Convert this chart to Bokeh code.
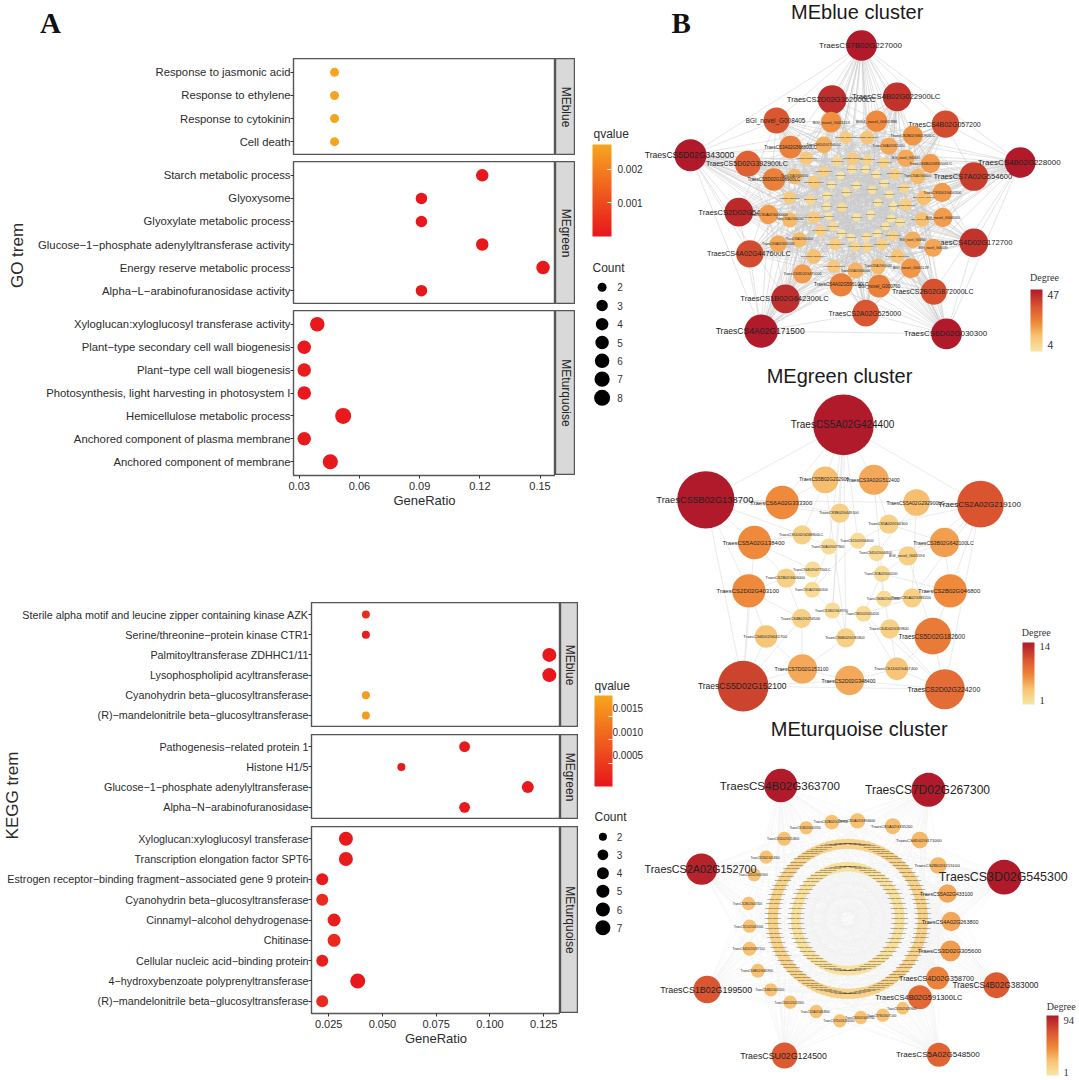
import numpy as np
from bokeh.plotting import figure
from bokeh.models import (Range1d, FactorRange, FixedTicker, LinearColorMapper, ColorBar, ColumnDataSource)
from bokeh.core.properties import value
from bokeh.embed import file_html
from bokeh.resources import INLINE

SANS = "Liberation Sans"
SERIF = "Liberation Serif"

# ---------- panel A data ----------
go_blue_terms = ["Response to jasmonic acid", "Response to ethylene", "Response to cytokinin", "Cell death"]
go_blue_ratio = [0.0476, 0.0476, 0.0476, 0.0476]
go_blue_count = [2, 2, 2, 2]
go_blue_q = [0.0027, 0.0027, 0.0027, 0.0027]

go_green_terms = ["Starch metabolic process", "Glyoxysome", "Glyoxylate metabolic process",
                  "Glucose\u22121\u2212phosphate adenylyltransferase activity",
                  "Energy reserve metabolic process", "Alpha\u2212L\u2212arabinofuranosidase activity"]
go_green_ratio = [0.1212, 0.0909, 0.0909, 0.1212, 0.1515, 0.0909]
go_green_count = [4, 3, 3, 4, 5, 3]
go_green_q = [0.00003, 0.00002, 0.00002, 0.00002, 0.00002, 0.00002]

go_turq_terms = ["Xyloglucan:xyloglucosyl transferase activity", "Plant\u2212type secondary cell wall biogenesis",
                 "Plant\u2212type cell wall biogenesis", "Photosynthesis, light harvesting in photosystem I",
                 "Hemicellulose metabolic process", "Anchored component of plasma membrane",
                 "Anchored component of membrane"]
go_turq_ratio = [0.0390, 0.0325, 0.0325, 0.0325, 0.0519, 0.0325, 0.0455]
go_turq_count = [6, 5, 5, 5, 8, 5, 7]
go_turq_q = [0.00005, 0.00005, 0.00015, 0.00005, 0.00005, 0.00008, 0.00005]

kegg_blue_terms = ["Sterile alpha motif and leucine zipper containing kinase AZK", "Serine/threonine\u2212protein kinase CTR1",
                   "Palmitoyltransferase ZDHHC1/11", "Lysophospholipid acyltransferase",
                   "Cyanohydrin beta\u2212glucosyltransferase", "(R)\u2212mandelonitrile beta\u2212glucosyltransferase"]
kegg_blue_ratio = [0.0423, 0.0423, 0.1276, 0.1276, 0.0423, 0.0423]
kegg_blue_count = [2, 2, 6, 6, 2, 2]
kegg_blue_q = [0.0003, 0.00008, 0.00001, 0.00001, 0.0018, 0.0018]

kegg_green_terms = ["Pathogenesis\u2212related protein 1", "Histone H1/5",
                    "Glucose\u22121\u2212phosphate adenylyltransferase", "Alpha\u2212N\u2212arabinofuranosidase"]
kegg_green_ratio = [0.0882, 0.0588, 0.1176, 0.0882]
kegg_green_count = [3, 2, 4, 3]
kegg_green_q = [0.00005, 0.00005, 0.00003, 0.00005]

kegg_turq_terms = ["Xyloglucan:xyloglucosyl transferase", "Transcription elongation factor SPT6",
                   "Estrogen receptor\u2212binding fragment\u2212associated gene 9 protein",
                   "Cyanohydrin beta\u2212glucosyltransferase", "Cinnamyl\u2212alcohol dehydrogenase", "Chitinase",
                   "Cellular nucleic acid\u2212binding protein", "4\u2212hydroxybenzoate polyprenyltransferase",
                   "(R)\u2212mandelonitrile beta\u2212glucosyltransferase"]
kegg_turq_ratio = [0.0330, 0.0330, 0.0220, 0.0220, 0.0275, 0.0275, 0.0220, 0.0385, 0.0220]
kegg_turq_count = [6, 6, 4, 4, 5, 5, 4, 7, 4]
kegg_turq_q = [0.00005, 0.00008, 0.00005, 0.00028, 0.00012, 0.00028, 0.00012, 0.00005, 0.00028]

go_ticks = [0.03, 0.06, 0.09, 0.12, 0.15]
go_tick_labels = ["0.03", "0.06", "0.09", "0.12", "0.15"]
kegg_ticks = [0.025, 0.050, 0.075, 0.100, 0.125]
kegg_tick_labels = ["0.025", "0.050", "0.075", "0.100", "0.125"]
go_q_ticks = [0.001, 0.002]
go_q_labels = ["0.001", "0.002"]
kegg_q_ticks = [0.0005, 0.0010, 0.0015]
kegg_q_labels = ["0.0005", "0.0010", "0.0015"]
go_legend_counts = [2, 3, 4, 5, 6, 7, 8]
kegg_legend_counts = [2, 3, 4, 5, 6, 7]

# ---------- panel B data: MEblue ----------
blue_hub_names = ["TraesCS7B02G227000", "TraesCS2D02G362000LC", "TraesCS4B02G022900LC", "BGI_novel_G008405",
                  "TraesCS4B02G057200", "TraesCS5D02G343000", "TraesCS4B02G228000", "TraesCS5D02G392900LC",
                  "TraesCS7A02G554600", "TraesCS2D02G547700", "TraesCS4D02G172700", "TraesCS4A02G447600LC",
                  "TraesCS1B02G642300LC", "TraesCS2B02G872000LC", "TraesCS2A02G525000", "TraesCS4A02G171500",
                  "TraesCS6D02G030300"]
blue_hub_x = [663, 575, 770, 408, 915, 150, 1139, 322, 1000, 295, 1000, 328, 435, 880, 676, 362, 918]
blue_hub_y = [135, 297, 289, 360, 371, 464, 486, 490, 528, 635, 727, 760, 895, 874, 938, 992, 1000]
blue_hub_d = [92, 86, 86, 78, 82, 96, 92, 78, 86, 86, 86, 82, 86, 78, 80, 100, 92]
blue_hub_deg = [47, 43, 42, 35, 37, 47, 47, 33, 40, 44, 42, 37, 43, 36, 35, 47, 47]
blue_hub_fs = [8, 7.6, 7.6, 6.4, 7, 8.6, 8, 7, 7.6, 7.6, 7.6, 7.2, 7.6, 7, 7, 8.6, 8]

blue_in_x = [572, 708, 817, 450, 550, 615, 680, 745, 796, 870, 400, 462, 497, 590, 637, 680, 730, 550, 520, 634, 675, 707,
             763, 832, 905, 600, 647, 573, 731, 791, 850, 447, 695, 618, 746, 559, 510, 796, 712, 558, 605, 759, 384, 448,
             520, 565, 648, 691, 845, 907, 752, 779, 578, 540, 603, 735, 711, 757, 632, 678, 817, 878, 413, 477, 584, 644,
             680, 725, 771, 520, 580, 645, 713, 811, 486, 602, 716]
blue_in_y = [365, 362, 405, 440, 433, 411, 411, 437, 473, 489, 537, 528, 473, 483, 474, 478, 487, 514, 545, 506, 507, 521,
             521, 528, 576, 525, 555, 553, 549, 563, 592, 592, 568, 576, 582, 585, 599, 612, 607, 617, 620, 617, 642, 658,
             651, 647, 651, 641, 657, 651, 655, 665, 677, 691, 698, 677, 699, 706, 712, 709, 718, 742, 730, 718, 731, 739,
             740, 732, 767, 768, 798, 810, 798, 803, 820, 853, 857]
blue_in_d = [62, 64, 60, 68, 50, 38, 42, 52, 52, 58, 68, 46, 40, 30, 38, 32, 32, 34, 38, 26, 24, 24,
             34, 46, 58, 24, 24, 24, 24, 30, 44, 38, 26, 26, 24, 24, 30, 36, 24, 24, 28, 24, 58, 46,
             38, 24, 24, 24, 44, 58, 24, 26, 28, 34, 24, 24, 24, 32, 24, 26, 50, 54, 52, 46, 36, 30,
             30, 34, 42, 44, 40, 48, 46, 60, 58, 70, 68]
blue_in_named = {0: "BGI_novel_G001153", 1: "BGI4_novel_G001896", 2: "TraesCS2B02G841900LC", 3: "TraesCS3A02G568800LC",
                 4: "TraesCS6D02G275000LC", 7: "TraesCS6A02G320100", 8: "BGI_novel_G00640", 9: "TraesCS6B02G831500LC",
                 10: "TraesCS5D02G108900LC", 24: "TraesCS5D02G410300", 30: "BGI_novel_G00946", 48: "BGI_novel_G00340",
                 49: "BGI_novel_G000340", 60: "BGI_novel_G00660", 61: "BGI_novel_G00535", 73: "BGI_novel_G005129",
                 74: "TraesCS3D02G470000", 75: "TraesCS4A02G595100LC", 76: "BGI_novel_G000760"}

# ---------- panel B data: MEgreen ----------
green_names = ["TraesCS5A02G424400", "TraesCS5B02G138700", "TraesCS2A02G219100", "TraesCS5D02G152100", "TraesCS2D02G224200",
               "TraesCS5D02G182600", "TraesCS2B02G046800", "TraesCS2D02G403100", "TraesCS5A02G138400", "TraesCS6A02G333300",
               "TraesCS3B02G642100LC", "TraesCS5B02G202900", "TraesCS3A02G512400", "TraesCS5A02G292900LC", "TraesCS5A02G160300",
               "TraesCS3B02G449100", "TraesCS5D02G268800LC", "TraesCS1D02G344600", "TraesCS4A02G077800", "TraesCS4D02G044600",
               "BGI_novel_G005594", "TraesCS6B02G477300LC", "TraesCS2B02G606000", "TraesCS7A02G000200", "TraesCS1A02G000300",
               "TraesCS6B02G012600", "TraesCS5A02G386200", "TraesCS1B02G449700", "TraesCS6D02G054200", "TraesCS4B02G256500",
               "TraesCS4D02G269800", "TraesCS6D02G041700", "TraesCS6B02G181800", "TraesCS7D02G153100", "TraesCS2D02G348400",
               "TraesCS1D02G407400"]
green_x = [609, 196, 1020, 308, 913, 877, 929, 325, 342, 425, 912, 554, 700, 828, 745, 598, 485, 652, 565, 708, 802, 517, 437,
           724, 515, 731, 815, 576, 669, 483, 748, 377, 616, 486, 627, 769]
green_y = [193, 418, 431, 977, 986, 827, 691, 691, 546, 426, 546, 358, 358, 426, 491, 458, 523, 541, 558, 578, 586, 627, 653,
           640, 688, 715, 712, 750, 760, 774, 805, 828, 832, 925, 960, 925]
green_d = [182, 172, 140, 152, 120, 110, 100, 100, 100, 100, 88, 80, 90, 80, 58, 58, 58, 48, 48, 48, 58, 48, 58, 48, 48, 48,
           58, 48, 48, 58, 58, 68, 58, 88, 88, 68]
green_deg = [14, 14, 10.5, 11.5, 9, 8, 7, 7, 7, 7, 6, 4.5, 5.5, 4.5, 3, 3, 3, 2, 2, 2, 3, 2, 3, 2, 2, 2, 3, 2, 2, 3, 3, 4, 3,
             5.5, 5.5, 4]
green_fs = [10, 9.4, 8, 8.5, 7, 6.4, 6, 6, 6, 6, 5.2, 4.8, 5.2, 5, 3.8, 3.8, 3.8, 3.2, 3.2, 3.2, 3.8, 3.2, 3.8, 3.2, 3.2, 3.2,
            3.8, 3.2, 3.2, 3.8, 3.8, 4.2, 3.8, 5.2, 5.2, 4.2]
green_from = [0, 0, 1, 2, 3, 0, 0, 0, 0, 0, 0, 0, 0, 1, 1, 1, 1, 1, 1, 2, 2, 2, 2, 2, 2, 3, 3, 3, 3, 3, 3, 4, 4, 4, 4, 4, 5, 5, 5,
              6, 6, 6, 7, 7, 7, 8, 8, 8, 9, 9, 10, 10, 10, 11, 11, 12, 12, 13, 13, 14, 15, 16, 17, 18, 19, 20, 21, 22, 23, 24, 25,
              26, 27, 28, 29, 30, 31, 32, 33, 34]
green_to = [1, 2, 3, 4, 4, 11, 12, 15, 18, 32, 9, 17, 27, 9, 8, 7, 16, 15, 13, 13, 14, 10, 6, 20, 26, 7, 8, 31, 33, 34, 29, 34, 35,
            30, 28, 5, 6, 20, 35, 10, 26, 23, 22, 29, 31, 16, 22, 21, 15, 11, 14, 20, 19, 16, 32, 14, 25, 19, 26, 17, 27, 18, 24, 24,
            25, 23, 22, 29, 28, 27, 30, 28, 32, 35, 33, 35, 33, 33, 34, 35]

# ---------- panel B data: MEturquoise ----------
turq_names = ["TraesCS4B02G363700", "TraesCS7D02G267300", "TraesCS2A02G152700", "TraesCS3D02G545300", "TraesCS1B02G199500",
              "TraesCS4B02G383000", "TraesCSU02G124500", "TraesCS5A02G548500", "TraesCS4B02G591300LC", "TraesCS4D02G358700",
              "TraesCS3D02G305600", "TraesCS4A02G263800", "TraesCS5A02G433100", "TraesCS2B02G215100", "TraesCS6D02G171000",
              "TraesCS1A02G335200", "TraesCS5A02G394600", "TraesCS2B02G208700", "TraesCS1B02G003700", "TraesCS5D02G210800",
              "TraesCS2B02G204300", "TraesCS2D02G041900", "TraesCS2B02G047300", "TraesCS1D02G459000", "TraesCS4D02G287100",
              "TraesCS6B02G081900", "TraesCS4B02G031100", "TraesCS5D02G201900", "TraesCS2A02G464800", "TraesCS7D02G264000",
              "TraesCS6D02G098700", "TraesCS7B02G071400", "TraesCS5D02G289600"]
turq_x = [421, 864, 183, 1091, 200, 1068, 432, 895, 838, 891, 930, 932, 921, 893, 838, 757, 651, 574, 497, 431, 377, 341, 324, 327,
          327, 352, 391, 449, 527, 598, 661, 727, 787]
turq_y = [225, 238, 476, 500, 837, 824, 1035, 1033, 860, 803, 721, 633, 549, 465, 389, 347, 331, 335, 352, 385, 440, 493, 579, 647,
          715, 781, 838, 875, 903, 931, 921, 914, 893]
turq_d = [100, 102, 94, 104, 82, 78, 78, 72, 72, 68, 62, 58, 56, 50, 50, 48, 46, 44, 40, 42, 40, 40, 40, 40, 42, 42, 40, 40, 40, 40,
          40, 40, 38]
turq_deg = [94, 94, 90, 94, 68, 66, 66, 62, 60, 48, 38, 34, 34, 28, 28, 26, 25, 25, 24, 25, 24, 24, 24, 24, 25, 25, 24, 24, 24, 24,
            24, 24, 24]
turq_fs = [11.6, 12, 10.8, 12.4, 8.9, 8.3, 8.8, 8.1, 7.5, 7.2, 6.1, 5.5, 5.1, 4.4, 4.4, 4, 3.6, 3.3, 3, 3.1, 2.8, 2.8, 2.8, 2.8, 3.1,
           3.1, 2.8, 2.8, 2.8, 3, 2.8, 2.8, 2.8]
inner_ring_n = 64
outer_ring_n = 96
ring_label = "TraesCS5A02G000000"

# ---------- colour helpers ----------
def hex_rgb(h):
    return np.array([int(h[i:i + 2], 16) for i in (1, 3, 5)], dtype=float)

def ramp(stops, colors, n=256):
    t = np.linspace(0, 1, n)
    rgb = np.array([hex_rgb(c) for c in colors])
    out = np.stack([np.interp(t, stops, rgb[:, k]) for k in range(3)], axis=1)
    return ["#%02x%02x%02x" % tuple(int(round(v)) for v in row) for row in out]

Q_PAL = ramp([0, 1], ["#E8161C", "#F7A61E"])
DEG_PAL = ramp([0, 0.25, 0.45, 0.7, 1], ["#F8E6A5", "#F7C273", "#F08C3D", "#DD5A30", "#B01A2A"])
GO_Q = LinearColorMapper(palette=Q_PAL, low=0, high=0.00273)
KEGG_Q = LinearColorMapper(palette=Q_PAL, low=0, high=0.00195)
GO_SIZE = {2: 9, 3: 11.5, 4: 12.5, 5: 13.5, 6: 14.5, 7: 15.2, 8: 16}
KEGG_SIZE = {2: 8, 3: 10.8, 4: 12, 5: 13, 6: 14, 7: 15}
TXT = "#2b2b2b"
EDGE = "#555555"

children = []

def place(fig, x, y):
    fig.styles = {"position": "absolute", "left": f"{x}px", "top": f"{y}px"}
    children.append(fig)
    return fig

def blank(x0, x1, y0, y1):
    """Transparent figure whose data units are page pixels."""
    p = figure(width=int(x1 - x0), height=int(y1 - y0), x_range=Range1d(x0, x1), y_range=Range1d(y1, y0),
               toolbar_location=None, output_backend="svg", min_border=0,
               x_axis_location=None, y_axis_location=None, outline_line_color=None,
               background_fill_color=None, border_fill_color=None)
    p.grid.visible = False
    return p

def txt(p, xs, ys, labels, size, color=TXT, font=SANS, align="center", base="middle", angle=0, style="normal"):
    p.text(x=list(xs), y=list(ys), text=list(labels), text_font=value(font), text_font_size=size, text_color=color,
           text_align=align, text_baseline=base, angle=angle, text_font_style=style)

def facet(l, r, top, bot, terms, ratio, count, q, xr, mapper, sizes, strip, fs, ticks=None, tick_labels=None, axis_h=0):
    p = figure(width=r, height=bot - top + axis_h, x_range=Range1d(*xr),
               y_range=FactorRange(factors=terms[::-1], range_padding=0.1, range_padding_units="absolute"),
               toolbar_location=None, output_backend="svg", min_border_left=l, min_border_right=0, min_border_top=0,
               min_border_bottom=axis_h, outline_line_color=EDGE, outline_line_width=1.4,
               x_axis_location="below" if axis_h else None, background_fill_color="white", border_fill_color=None)
    p.grid.visible = False
    p.yaxis.axis_line_color = None
    p.yaxis.major_tick_in = 0
    p.yaxis.major_tick_out = 3
    p.yaxis.major_tick_line_color = "#333333"
    p.yaxis.major_label_standoff = 0
    p.yaxis.major_label_text_font = SANS
    p.yaxis.major_label_text_font_size = fs
    p.yaxis.major_label_text_color = TXT
    if axis_h:
        p.xaxis.axis_line_color = None
        p.xaxis.ticker = FixedTicker(ticks=ticks)
        p.xaxis.major_label_overrides = dict(zip(ticks, tick_labels))
        p.xaxis.major_tick_in = 0
        p.xaxis.major_tick_out = 3
        p.xaxis.major_tick_line_color = "#333333"
        p.xaxis.minor_tick_line_color = None
        p.xaxis.major_label_standoff = 3
        p.xaxis.major_label_text_font = SANS
        p.xaxis.major_label_text_font_size = "11px"
        p.xaxis.major_label_text_color = TXT
        p.xaxis.axis_label = "GeneRatio"
        p.xaxis.axis_label_text_font = SANS
        p.xaxis.axis_label_text_font_style = "normal"
        p.xaxis.axis_label_text_font_size = "13px"
        p.xaxis.axis_label_text_color = TXT
        p.xaxis.axis_label_standoff = 0
    src = ColumnDataSource(dict(x=ratio, y=terms, q=q, s=[sizes[c] for c in count]))
    p.scatter("x", "y", size="s", source=src, fill_color={"field": "q", "transform": mapper}, line_color=None)
    place(p, 0, top)
    # strip
    s = figure(width=strip[1], height=bot - top, x_range=Range1d(0, 1), y_range=Range1d(0, 1), toolbar_location=None,
               output_backend="svg", min_border=0, x_axis_location=None, y_axis_location=None, outline_line_color=EDGE,
               outline_line_width=1.4, background_fill_color="#D9D9D9", border_fill_color=None)
    s.grid.visible = False
    txt(s, [0.5], [0.5], [strip[0]], "12px", color="#222222", angle=-np.pi / 2)
    place(s, r, top)

GO_XR = (0.02715, 0.1577)
KEGG_XR = (0.0170, 0.1328)

# side labels first so the axis text sits above them
side = blank(0, 34, 200, 310)
txt(side, [17], [255], ["GO trem"], "17px", angle=np.pi / 2)
place(side, 0, 200)
side2 = blank(0, 30, 740, 850)
txt(side2, [12], [795], ["KEGG trem"], "17px", angle=np.pi / 2)
place(side2, 0, 740)

GF, KF = "11.3px", "10.75px"
facet(293, 555, 58, 155, go_blue_terms, go_blue_ratio, go_blue_count, go_blue_q, GO_XR, GO_Q, GO_SIZE, ("MEblue", 20), GF)
facet(293, 555, 161, 304, go_green_terms, go_green_ratio, go_green_count, go_green_q, GO_XR, GO_Q, GO_SIZE, ("MEgreen", 20), GF)
facet(293, 555, 310, 475, go_turq_terms, go_turq_ratio, go_turq_count, go_turq_q, GO_XR, GO_Q, GO_SIZE, ("MEturquoise", 20), GF,
      go_ticks, go_tick_labels, 36)
facet(311, 560, 602, 727, kegg_blue_terms, kegg_blue_ratio, kegg_blue_count, kegg_blue_q, KEGG_XR, KEGG_Q, KEGG_SIZE, ("MEblue", 18), KF)
facet(311, 560, 734, 819, kegg_green_terms, kegg_green_ratio, kegg_green_count, kegg_green_q, KEGG_XR, KEGG_Q, KEGG_SIZE, ("MEgreen", 18), KF)
facet(311, 560, 826, 1013, kegg_turq_terms, kegg_turq_ratio, kegg_turq_count, kegg_turq_q, KEGG_XR, KEGG_Q, KEGG_SIZE, ("MEturquoise", 18), KF,
      kegg_ticks, kegg_tick_labels, 36)

head = blank(0, 120, 0, 50)
txt(head, [50], [22], ["A"], "29px", color="#111111", font=SERIF, style="bold")
place(head, 0, 0)

def q_bar(p, mapper, ticks, labels, x, y_bottom, w, h, offset=6):
    cb = ColorBar(color_mapper=mapper, ticker=FixedTicker(ticks=ticks), major_label_overrides=dict(zip(ticks, labels)),
                  location=(x, y_bottom), width=w, height=h, padding=0, background_fill_color=None, border_line_color=None,
                  major_tick_line_color="white", major_tick_in=4, major_tick_out=0, minor_tick_line_color=None, bar_line_color=None,
                  major_label_text_font=SANS, major_label_text_font_size="10px", major_label_text_color=TXT,
                  label_standoff=offset)
    p.add_layout(cb, "center")

# GO legend
lg = blank(578, 650, 120, 420)
txt(lg, [593], [133], ["qvalue"], "12px", align="left")
q_bar(lg, GO_Q, go_q_ticks, go_q_labels, 14, 184, 19, 92)
txt(lg, [592], [267], ["Count"], "12px", align="left")
go_leg_y = [286.7, 305, 323.7, 342, 360.3, 378.7, 397.3]
lg.scatter(x=[601.6] * 7, y=go_leg_y, size=[GO_SIZE[c] for c in go_legend_counts], fill_color="black", line_color=None)
txt(lg, [619.6] * 7, go_leg_y, [str(c) for c in go_legend_counts], "10px", color="#333333")
place(lg, 578, 120)

# KEGG legend: its tick texts stand a little above their ticks, as in the reference
lk = blank(578, 650, 670, 950)
txt(lk, [594], [685], ["qvalue"], "12px", align="left")
q_bar(lk, KEGG_Q, kegg_q_ticks, [" "] * 3, 16, 164, 18, 91, offset=1)
txt(lk, [612] * 3, [754, 731, 707.7], kegg_q_labels, "10px", align="left")
txt(lk, [594], [816], ["Count"], "12px", align="left")
kg_leg_y = [836.3, 854.3, 872.7, 890.7, 909, 927.3]
lk.scatter(x=[602.4] * 6, y=kg_leg_y, size=[KEGG_SIZE[c] for c in kegg_legend_counts], fill_color="black", line_color=None)
txt(lk, [619] * 6, kg_leg_y, [str(c) for c in kegg_legend_counts], "10px", color="#333333")
place(lk, 578, 670)

# ---------- networks: data units are 3 per page pixel ----------
def net_fig(top, bot, y0):
    h = bot - top
    p = figure(width=439, height=h, x_range=Range1d(0, 1317), y_range=Range1d(y0 + h * 3, y0), toolbar_location=None,
               output_backend="svg", min_border=0, x_axis_location=None, y_axis_location=None, outline_line_color=None,
               background_fill_color=None, border_fill_color=None)
    p.grid.visible = False
    place(p, 640, top)
    return p

def mapper_color(m, v):
    i = int(np.clip((v - m[0]) / (m[1] - m[0]), 0, 1) * 255)
    return DEG_PAL[i]

def draw_nodes(p, x, y, d, deg, names, fs, mapper, dx=-3):
    p.circle(x=list(x), y=list(y), radius=[v / 2 for v in d],
             fill_color=[mapper_color(mapper, v) for v in deg], line_color=None)
    p.text(x=[v + dx for v in x], y=list(y), text=list(names), text_font=value(SANS),
           text_font_size=[f"{v:.2f}px" for v in fs], text_color="#222222", text_align="center", text_baseline="middle")

def deg_bar(p, low, high, ticks, x, y_bottom, w, h, font=SERIF):
    m = LinearColorMapper(palette=DEG_PAL, low=low, high=high)
    cb = ColorBar(color_mapper=m, ticker=FixedTicker(ticks=ticks), location=(x, y_bottom), width=w, height=h, padding=0,
                  background_fill_color=None, border_line_color=None, major_tick_line_color=None, minor_tick_line_color=None,
                  bar_line_color=None, major_label_text_font=font, major_label_text_font_size="10.5px", major_label_text_color="#333333",
                  label_standoff=5)
    p.add_layout(cb, "center")

ex0, ey0, ex1, ey1 = [], [], [], []
def link(a, b, X, Y):
    ex0.append(X[a]); ey0.append(Y[a]); ex1.append(X[b]); ey1.append(Y[b])

# --- MEblue
n1 = net_fig(0, 360, 0)
allx = blue_hub_x + blue_in_x
ally = blue_hub_y + blue_in_y
nh, ni = len(blue_hub_x), len(blue_in_x)
for h in range(nh):
    for j in range(ni):
        if (j + h) % 3 == 0:
            link(h, nh + j, allx, ally)
for a, b in [(0, 5), (0, 6), (5, 15), (6, 16), (15, 16), (0, 1), (0, 2), (5, 3), (5, 7), (5, 9), (6, 8), (6, 10), (6, 4), (15, 11), (15, 12),
             (16, 13), (16, 14), (15, 14), (5, 11), (6, 13), (15, 9), (16, 10), (0, 3), (0, 4), (5, 12), (6, 14), (1, 2), (3, 9), (4, 8)]:
    link(a, b, allx, ally)
for k in (3, 7, 11, 17, 23, 31):
    for j in range(ni):
        link(nh + j, nh + (j + k) % ni, allx, ally)
n1.segment(list(ex0), list(ey0), list(ex1), list(ey1), line_color="#CBCBCB", line_width=0.5)
m1 = (4, 47)
draw_nodes(n1, blue_hub_x, blue_hub_y, blue_hub_d, blue_hub_deg, blue_hub_names, blue_hub_fs, m1)
inner_deg = np.interp(blue_in_d, [24, 30, 40, 50, 60, 68], [5, 9, 13, 18, 22, 26])
inner_names = [blue_in_named.get(i, "TraesCS5A02G000000") for i in range(ni)]
inner_fs = [max(1.0, (d - 15) * 0.085) for d in blue_in_d]
draw_nodes(n1, blue_in_x, blue_in_y, blue_in_d, inner_deg, inner_names, inner_fs, m1, dx=0)
txt(n1, [650], [33], ["MEblue cluster"], "20px", color="#1a1a1a")
txt(n1, [122], [66], ["B"], "29px", color="#111111", font=SERIF, style="bold")
txt(n1, [1212], [830], ["Degree"], "10px", color="#333333", font=SERIF)
deg_bar(n1, -2, 52, [4, 47], 390, 9, 12, 62, font=SANS)

# --- MEgreen
n2 = net_fig(360, 712, 0)
ex0.clear(); ey0.clear(); ex1.clear(); ey1.clear()
for a, b in zip(green_from, green_to):
    link(a, b, green_x, green_y)
n2.segment(list(ex0), list(ey0), list(ex1), list(ey1), line_color="#DEDEDE", line_width=0.6)
draw_nodes(n2, green_x, green_y, green_d, green_deg, green_names, green_fs, (1, 14))
txt(n2, [597], [47], ["MEgreen cluster"], "20px", color="#1a1a1a")
txt(n2, [1187], [816], ["Degree"], "10px", color="#333333", font=SERIF)
deg_bar(n2, 0, 15, [1, 14], 382, 8, 12, 62)

# --- MEturquoise
n3 = net_fig(712, 1080, 6)
cx, cy = 622, 625
ang_i = np.linspace(0, 2 * np.pi, inner_ring_n, endpoint=False)
ang_o = np.linspace(0, 2 * np.pi, outer_ring_n, endpoint=False)
ix, iy = cx + 156 * np.cos(ang_i), cy + 156 * np.sin(ang_i)
ox, oy = cx + 225 * np.cos(ang_o), cy + 225 * np.sin(ang_o)
X = list(turq_x) + list(ix) + list(ox)
Y = list(turq_y) + list(iy) + list(oy)
ex0.clear(); ey0.clear(); ex1.clear(); ey1.clear()
base_i = len(turq_x)
base_o = base_i + inner_ring_n
for k in (9, 17, 23, 29):
    for j in range(inner_ring_n):
        link(base_i + j, base_i + (j + k) % inner_ring_n, X, Y)
n3.segment(list(ex0), list(ey0), list(ex1), list(ey1), line_color="#EFEFEF", line_width=0.4)
ex0.clear(); ey0.clear(); ex1.clear(); ey1.clear()
for h in range(13):
    for j in range(0, outer_ring_n, 3):
        link(h, base_o + (j + h) % outer_ring_n, X, Y)
    for j in range(13, 33):
        link(h, j, X, Y)
n3.segment(list(ex0), list(ey0), list(ex1), list(ey1), line_color="#F3F3F3", line_width=0.4)
m3 = (1, 94)
draw_nodes(n3, ox, oy, [32] * outer_ring_n, [14] * outer_ring_n, [ring_label] * outer_ring_n, [1.6] * outer_ring_n, m3, dx=0)
draw_nodes(n3, ix, iy, [30] * inner_ring_n, [5] * inner_ring_n, [ring_label] * inner_ring_n, [1.6] * inner_ring_n, m3, dx=0)
draw_nodes(n3, turq_x, turq_y, turq_d, turq_deg, turq_names, turq_fs, m3)
txt(n3, [656], [55], ["MEturquoise cluster"], "20px", color="#1a1a1a")
txt(n3, [1262], [889], ["Degree"], "10px", color="#333333", font=SERIF)
deg_bar(n3, -4, 102, [1, 94], 406, 5, 12, 60)

html = file_html(children, INLINE)
open("out.html", "w").write(html)
